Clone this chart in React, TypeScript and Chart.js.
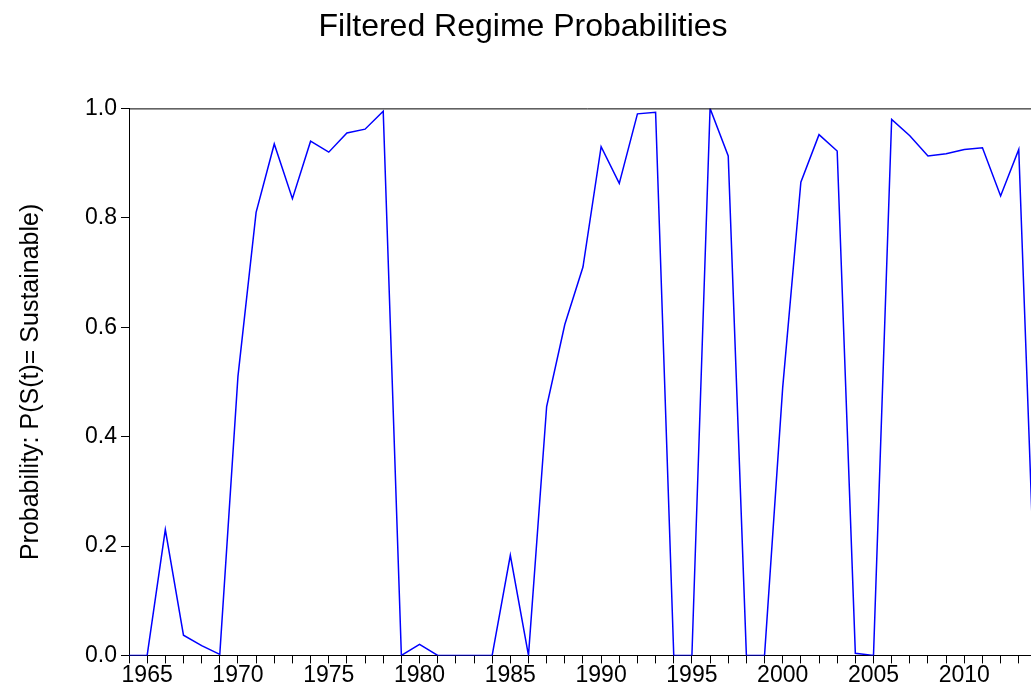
import { useEffect, useRef } from "react";
import { Chart, registerables } from "chart.js";

Chart.register(...registerables);

const years = [
  1964, 1965, 1966, 1967, 1968, 1969, 1970, 1971, 1972, 1973, 1974, 1975, 1976,
  1977, 1978, 1979, 1980, 1981, 1982, 1983, 1984, 1985, 1986, 1987, 1988, 1989,
  1990, 1991, 1992, 1993, 1994, 1995, 1996, 1997, 1998, 1999, 2000, 2001, 2002,
  2003, 2004, 2005, 2006, 2007, 2008, 2009, 2010, 2011, 2012, 2013, 2014,
];
const probSustainable = [
  0.0, 0.0, 0.23, 0.037, 0.018, 0.002, 0.51, 0.81, 0.935, 0.835, 0.94, 0.92,
  0.955, 0.962, 0.995, 0.0, 0.02, 0.0, 0.0, 0.0, 0.0, 0.183, 0.0, 0.455, 0.605,
  0.71, 0.93, 0.863, 0.99, 0.993, 0.0, 0.0, 1.0, 0.913, 0.0, 0.0, 0.49, 0.865,
  0.952, 0.922, 0.004, 0.0, 0.98, 0.95, 0.913, 0.917, 0.925, 0.928, 0.84, 0.925,
  0.0,
];
const yTicks = [0, 0.2, 0.4, 0.6, 0.8, 1.0];

const FONT = "'Liberation Sans', Arial, sans-serif";

export default function App() {
  const ref = useRef<HTMLCanvasElement>(null);

  useEffect(() => {
    if (!ref.current) return;
    document.body.style.margin = "0";
    const borderPlugin = {
      id: "top-border",
      afterDraw: (chart: Chart) => {
        const { ctx, chartArea } = chart;
        ctx.save();
        ctx.strokeStyle = "#000";
        ctx.lineWidth = 1;
        ctx.beginPath();
        ctx.moveTo(chartArea.left, chartArea.top + 0.5);
        ctx.lineTo(chartArea.right, chartArea.top + 0.5);
        ctx.stroke();
        ctx.restore();
      },
    };
    const chart = new Chart(ref.current, {
      type: "line",
      plugins: [borderPlugin],
      data: {
        datasets: [
          {
            data: years.map((y, i) => ({ x: y, y: probSustainable[i] })),
            borderColor: "#0000ff",
            borderWidth: 1.5,
            pointRadius: 0,
            tension: 0,
          },
        ],
      },
      options: {
        animation: false,
        responsive: false,
        layout: { padding: { top: 0, left: 0, right: 0, bottom: 11 } },
        plugins: {
          legend: { display: false },
          tooltip: { enabled: false },
          title: {
            display: true,
            text: "Filtered Regime Probabilities",
            color: "#000",
            font: { family: FONT, size: 32, weight: "normal" },
            padding: { top: 8, bottom: 62 },
          },
        },
        scales: {
          x: {
            type: "linear",
            min: 1964,
            max: 2014.5,
            grid: {
              drawOnChartArea: false,
              color: "#000",
              tickLength: 8,
              tickColor: "#000",
            },
            border: { color: "#000", width: 1 },
            ticks: {
              stepSize: 1,
              autoSkip: false,
              maxRotation: 0,
              color: "#000",
              font: { family: FONT, size: 23 },
              padding: -2,
              callback: (v: any) => (Number(v) % 5 === 0 ? String(v) : ""),
            },
          },
          y: {
            min: 0,
            max: 1,
            afterBuildTicks: (axis: any) => {
              axis.ticks = yTicks.map((v) => ({ value: v }));
            },
            afterFit: (axis: any) => {
              axis.width = 129;
            },
            grid: {
              drawOnChartArea: false,
              tickLength: 8,
              tickColor: "#000",
            },
            border: { color: "#000", width: 1 },
            ticks: {
              color: "#000",
              font: { family: FONT, size: 23 },
              padding: 4,
              callback: (v: any) => Number(v).toFixed(1),
            },
            title: {
              display: true,
              text: "Probability: P(S(t)= Sustainable)",
              color: "#000",
              font: { family: FONT, size: 25 },
              padding: { top: 16, bottom: 12 },
            },
          },
        },
      },
    });
    return () => chart.destroy();
  }, []);

  return (
    <div style={{ position: "fixed", left: 0, top: 0, width: 1031, height: 698, overflow: "hidden", background: "#fff" }}>
      <canvas ref={ref} width={1046} height={698} style={{ width: 1046, height: 698 }} />
    </div>
  );
}
